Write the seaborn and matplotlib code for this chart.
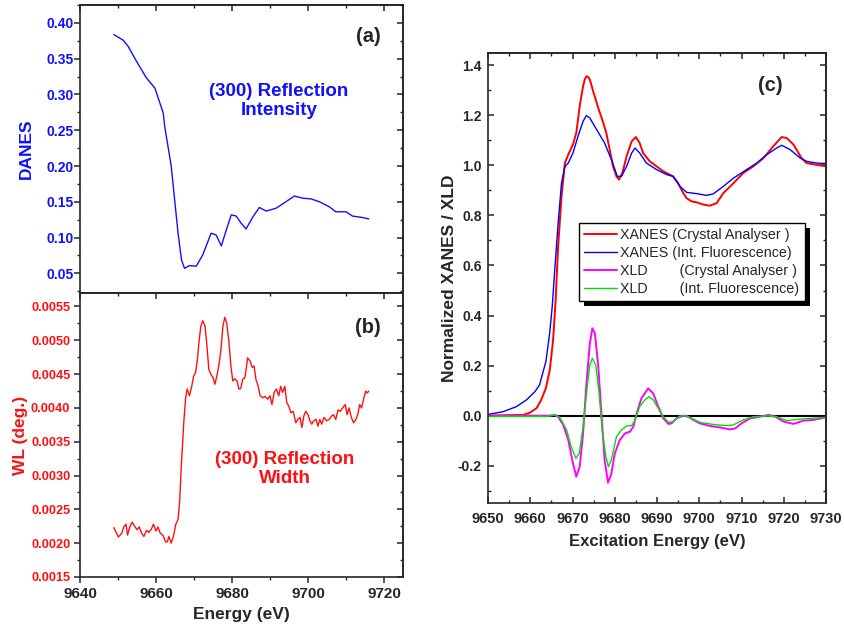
import matplotlib
matplotlib.use("Agg")
import matplotlib.pyplot as plt
from matplotlib.ticker import MultipleLocator, FormatStrFormatter
from matplotlib.patches import Rectangle
from matplotlib.transforms import IdentityTransform
import seaborn as sns

# ---- panel (a): DANES, (300) reflection intensity ----
danes_e = [9648.9, 9651.4, 9652.7, 9654.9, 9657.5, 9659.7, 9661.9, 9662.3, 9664.0, 9664.9,
           9665.8, 9666.7, 9667.5, 9668.8, 9670.6, 9672.3, 9674.5, 9675.8, 9677.2, 9678.5,
           9679.8, 9681.1, 9682.4, 9683.7, 9685.5, 9687.2, 9689.0, 9691.6, 9694.2, 9696.4,
           9698.6, 9700.8, 9703.0, 9705.6, 9707.3, 9710.0, 9711.7, 9714.3, 9716.0]
danes_i = [0.3837, 0.3757, 0.367, 0.346, 0.323, 0.309, 0.274, 0.255, 0.200, 0.153,
           0.106, 0.069, 0.057, 0.0607, 0.060, 0.0757, 0.106, 0.1037, 0.0883, 0.1107,
           0.1317, 0.130, 0.120, 0.112, 0.129, 0.142, 0.137, 0.141, 0.150, 0.158,
           0.155, 0.154, 0.150, 0.143, 0.136, 0.136, 0.130, 0.128, 0.126]

# ---- panel (b): reflection width ----
wl_e = [9648.9, 9650.1, 9651.0, 9651.5, 9652.1, 9652.5, 9653.1, 9653.7, 9654.4, 9655.0,
        9655.6, 9656.2, 9656.8, 9657.5, 9658.1, 9658.8, 9659.3, 9660.0, 9660.5, 9661.1,
        9661.9, 9662.5, 9663.0, 9663.4, 9664.0, 9664.7, 9665.2, 9665.8, 9666.2, 9666.7,
        9667.3, 9667.8, 9668.2, 9668.8, 9669.4, 9669.9, 9670.4, 9670.9, 9671.3, 9671.8,
        9672.3, 9672.9, 9673.4, 9673.9, 9674.4, 9675.0, 9675.5, 9676.0, 9676.6, 9677.1,
        9677.6, 9678.1, 9678.6, 9679.2, 9679.7, 9680.2, 9680.7, 9681.3, 9681.8, 9682.3,
        9682.8, 9683.4, 9683.7, 9684.1, 9684.8, 9685.3, 9685.8, 9686.3, 9686.9, 9687.4,
        9688.1, 9688.7, 9689.4, 9690.0, 9690.5, 9691.1, 9691.7, 9692.3, 9692.8, 9693.3,
        9693.9, 9694.4, 9694.9, 9695.5, 9696.1, 9696.8, 9697.3, 9697.9, 9698.4, 9698.9,
        9699.4, 9700.0, 9700.5, 9701.0, 9701.5, 9702.1, 9702.6, 9703.1, 9703.6, 9704.2,
        9704.9, 9705.6, 9706.2, 9706.7, 9707.3, 9707.9, 9708.5, 9709.1, 9709.8, 9710.3,
        9710.8, 9711.4, 9712.0, 9712.6, 9713.1, 9713.6, 9714.1, 9714.7, 9715.2, 9715.6,
        9716.0]
wl_deg = [0.00223, 0.00209, 0.00215, 0.00224, 0.00228, 0.00212, 0.00224, 0.00231, 0.00225, 0.00220,
          0.00224, 0.00215, 0.00210, 0.00219, 0.00216, 0.00221, 0.00228, 0.00218, 0.00224, 0.00215,
          0.00211, 0.00202, 0.00202, 0.00210, 0.00200, 0.00213, 0.00228, 0.00235, 0.00260, 0.00319,
          0.00378, 0.00415, 0.00428, 0.00418, 0.00432, 0.00447, 0.00452, 0.00472, 0.00497, 0.00521,
          0.00529, 0.00521, 0.00492, 0.00457, 0.00450, 0.00445, 0.00435, 0.00447, 0.00465, 0.00487,
          0.00521, 0.00534, 0.00526, 0.00497, 0.00462, 0.00440, 0.00443, 0.00440, 0.00428, 0.00429,
          0.00442, 0.00445, 0.00457, 0.00474, 0.00469, 0.00460, 0.00462, 0.00442, 0.00432, 0.00418,
          0.00415, 0.00417, 0.00413, 0.00418, 0.00405, 0.00423, 0.00428, 0.00418, 0.00432, 0.00423,
          0.00432, 0.00408, 0.00403, 0.00393, 0.00395, 0.00378, 0.00383, 0.00386, 0.00371, 0.00388,
          0.00395, 0.00390, 0.00381, 0.00376, 0.00381, 0.00383, 0.00373, 0.00383, 0.00376, 0.00386,
          0.00381, 0.00383, 0.00388, 0.00390, 0.00383, 0.00397, 0.00395, 0.00400, 0.00405, 0.00390,
          0.00400, 0.00386, 0.00378, 0.00383, 0.00390, 0.00405, 0.00400, 0.00415, 0.00425, 0.00422,
          0.00425]

# ---- panel (c): XANES / XLD ----
xanes_ca_e = [9650, 9658.3, 9659.9, 9661.5, 9662.6, 9663.7, 9664.6, 9665.4, 9666.0, 9666.6,
              9667.4, 9668.2, 9669.0, 9670.1, 9670.9, 9671.7, 9672.5, 9672.9, 9673.3, 9673.7,
              9674.1, 9674.9, 9676.1, 9677.3, 9678.0, 9678.8, 9679.6, 9680.4, 9681.0, 9681.8,
              9682.8, 9684.0, 9685.0, 9685.9, 9686.7, 9688.3, 9689.9, 9691.5, 9693.8, 9695.0,
              9696.2, 9697.0, 9698.2, 9699.4, 9701.0, 9702.5, 9704.1, 9705.7, 9708.1, 9710.4,
              9712.8, 9715.2, 9717.5, 9719.5, 9720.7, 9722.3, 9724.2, 9725.4, 9727.4, 9730]
xanes_ca = [0.0, 0.003, 0.012, 0.03, 0.063, 0.11, 0.18, 0.30, 0.46, 0.676,
            0.876, 1.01, 1.043, 1.083, 1.13, 1.236, 1.316, 1.343, 1.356, 1.353,
            1.343, 1.295, 1.229, 1.169, 1.129, 1.063, 0.996, 0.956, 0.943, 0.969,
            1.036, 1.096, 1.113, 1.089, 1.049, 1.016, 0.996, 0.976, 0.956, 0.929,
            0.889, 0.869, 0.856, 0.852, 0.843, 0.839, 0.849, 0.889, 0.929, 0.969,
            0.996, 1.029, 1.076, 1.113, 1.109, 1.083, 1.029, 1.009, 1.003, 0.996]

xanes_if_e = [9650, 9653.6, 9656.7, 9659.1, 9661.1, 9662.2, 9663.7, 9664.6, 9665.2, 9665.8,
              9666.6, 9667.4, 9668.2, 9669.0, 9670.1, 9671.3, 9672.5, 9673.3, 9674.1, 9675.7,
              9677.6, 9679.2, 9680.6, 9681.6, 9682.8, 9684.0, 9684.8, 9685.9, 9687.5, 9689.9,
              9692.3, 9693.8, 9695.4, 9697.0, 9699.4, 9701.7, 9703.3, 9705.7, 9708.1, 9711.2,
              9713.6, 9716.0, 9718.3, 9719.5, 9721.5, 9723.9, 9725.4, 9727.8, 9730]
xanes_if = [0.005, 0.016, 0.036, 0.063, 0.096, 0.123, 0.216, 0.33, 0.436, 0.583,
            0.77, 0.929, 0.996, 1.009, 1.049, 1.116, 1.176, 1.199, 1.189, 1.143,
            1.089, 1.023, 0.956, 0.956, 0.996, 1.049, 1.069, 1.049, 1.009, 0.983,
            0.963, 0.956, 0.916, 0.892, 0.887, 0.880, 0.886, 0.916, 0.949, 0.983,
            1.009, 1.043, 1.069, 1.080, 1.063, 1.029, 1.016, 1.009, 1.007]

xld_ca_e = [9650, 9664.6, 9665.8, 9666.6, 9667.8, 9669.0, 9670.1, 9670.9, 9671.7, 9672.5,
            9673.3, 9674.1, 9674.7, 9675.3, 9676.1, 9676.9, 9677.6, 9678.4, 9679.2, 9680.0,
            9681.2, 9682.4, 9683.6, 9684.4, 9685.2, 9686.3, 9687.9, 9689.1, 9690.3, 9691.5,
            9692.7, 9693.4, 9694.6, 9696.2, 9697.4, 9698.6, 9700.2, 9702.5, 9704.9, 9707.3,
            9708.5, 9710.0, 9712.0, 9714.4, 9716.4, 9718.0, 9720.0, 9722.3, 9724.6, 9727.0,
            9730]
xld_ca = [0.0, 0.0, 0.003, -0.004, -0.037, -0.097, -0.19, -0.244, -0.204, -0.071,
          0.129, 0.289, 0.349, 0.329, 0.196, -0.004, -0.177, -0.268, -0.231, -0.151,
          -0.097, -0.071, -0.064, -0.044, 0.009, 0.069, 0.109, 0.089, 0.036, -0.011,
          -0.033, -0.031, -0.011, 0.0, -0.004, -0.017, -0.031, -0.041, -0.047, -0.055,
          -0.051, -0.031, -0.011, -0.004, 0.003, -0.004, -0.024, -0.033, -0.020, -0.017,
          -0.007]

xld_if_e = [9650, 9663.8, 9665.8, 9667.0, 9668.6, 9669.7, 9670.8, 9671.6, 9672.5, 9673.3,
            9674.1, 9674.7, 9675.5, 9676.3, 9677.1, 9677.9, 9678.5, 9679.2, 9680.4, 9681.6,
            9682.8, 9684.0, 9684.8, 9685.9, 9687.1, 9688.1, 9689.1, 9690.3, 9691.5, 9692.7,
            9693.8, 9695.4, 9697.0, 9698.2, 9700.2, 9703.3, 9706.5, 9708.1, 9710.4, 9712.8,
            9716.0, 9718.3, 9720.7, 9723.1, 9726.2, 9730]
xld_if = [-0.003, -0.003, 0.003, -0.007, -0.057, -0.124, -0.171, -0.151, -0.044, 0.089,
          0.203, 0.229, 0.203, 0.089, -0.071, -0.164, -0.204, -0.177, -0.084, -0.057,
          -0.041, -0.040, -0.017, 0.036, 0.063, 0.076, 0.063, 0.029, -0.004, -0.027,
          -0.024, -0.001, -0.001, -0.011, -0.027, -0.035, -0.040, -0.037, -0.017, -0.004,
          -0.001, -0.004, -0.020, -0.015, -0.011, -0.007]

legend_labels = ["XANES (Crystal Analyser )", "XANES (Int. Fluorescence)",
                 "XLD        (Crystal Analyser )", "XLD        (Int. Fluorescence)"]

sns.set_style("ticks")
plt.rcParams['font.family'] = ['Liberation Sans', 'DejaVu Sans']
plt.rcParams['font.weight'] = 'bold'
plt.rcParams['axes.linewidth'] = 1.2

fig = plt.figure(figsize=(8.44, 6.31), dpi=100)
ax_a = fig.add_axes([0.0948, 0.5357, 0.3827, 0.4563])
ax_b = fig.add_axes([0.0948, 0.0856, 0.3827, 0.4501], sharex=ax_a)
ax_c = fig.add_axes([0.5782, 0.2024, 0.4005, 0.7141])


def mirror_ticks(ax, xmaj, xmin, ymaj, ymin, main_dir='out'):
    # Origin style: left/bottom ticks main_dir, mirrored ticks on right/top pointing in
    ax.tick_params(which='major', direction=main_dir, length=4, width=1.1)
    ax.tick_params(which='minor', direction=main_dir, length=2.5, width=1.0)
    top = ax.secondary_xaxis('top')
    right = ax.secondary_yaxis('right')
    for sec, axis, maj, mnr in [(top, top.xaxis, xmaj, xmin), (right, right.yaxis, ymaj, ymin)]:
        axis.set_major_locator(MultipleLocator(maj))
        axis.set_minor_locator(MultipleLocator(mnr))
        sec.tick_params(which='major', direction='in', length=4, width=1.1)
        sec.tick_params(which='minor', direction='in', length=2.5, width=1.0)
        axis.set_ticklabels([])


# panel (a)
sns.lineplot(x=danes_e, y=danes_i, ax=ax_a, color='#1010ff', lw=1.0, sort=False, estimator=None)
ax_a.set_ylim(0.0225, 0.425)
ax_a.yaxis.set_major_locator(MultipleLocator(0.05))
ax_a.yaxis.set_minor_locator(MultipleLocator(0.025))
ax_a.yaxis.set_major_formatter(FormatStrFormatter('%.2f'))
mirror_ticks(ax_a, 20, 10, 0.05, 0.025)
ax_a.set_ylabel('DANES', color='#1010ff', fontsize=12.5, fontweight='bold', labelpad=9)
ax_a.tick_params(axis='y', labelcolor='#1010ff', labelsize=10, pad=0.5)
ax_a.tick_params(axis='x', labelbottom=False)
ax_a.text(0.93, 0.89, '(a)', transform=ax_a.transAxes, fontsize=14.5, fontweight='bold', ha='right', va='center')
ax_a.text(0.616, 0.667, '(300) Reflection\nIntensity', transform=ax_a.transAxes, color='#1010ff',
          fontsize=13.5, fontweight='bold', ha='center', va='center', linespacing=1.2)

# panel (b)
sns.lineplot(x=wl_e, y=wl_deg, ax=ax_b, color='#ff1010', lw=1.0, sort=False, estimator=None)
ax_b.set_xlim(9640, 9725)
ax_b.set_ylim(0.0015, 0.0057)
ax_b.xaxis.set_major_locator(MultipleLocator(20))
ax_b.xaxis.set_minor_locator(MultipleLocator(10))
ax_b.yaxis.set_major_locator(MultipleLocator(0.0005))
ax_b.yaxis.set_minor_locator(MultipleLocator(0.00025))
ax_b.yaxis.set_major_formatter(FormatStrFormatter('%.4f'))
mirror_ticks(ax_b, 20, 10, 0.0005, 0.00025)
ax_b.set_ylabel('WL (deg.)', color='#ff1010', fontsize=12.5, fontweight='bold', labelpad=2)
ax_b.set_xlabel('Energy (eV)', fontsize=12.5, fontweight='bold', labelpad=4)
ax_b.tick_params(axis='y', labelcolor='#ff1010', labelsize=9.2, pad=3)
ax_b.tick_params(axis='x', labelsize=11)
ax_b.text(0.93, 0.877, '(b)', transform=ax_b.transAxes, fontsize=14.5, fontweight='bold', ha='right', va='center')
ax_b.text(0.635, 0.38, '(300) Reflection\nWidth', transform=ax_b.transAxes, color='#ff1010',
          fontsize=13.5, fontweight='bold', ha='center', va='center', linespacing=1.2)

# panel (c)
ax_c.axhline(0, color='black', lw=1.5, zorder=1)
sns.lineplot(x=xanes_ca_e, y=xanes_ca, ax=ax_c, color='#ff0000', lw=1.4, sort=False, estimator=None,
             label=legend_labels[0])
sns.lineplot(x=xanes_if_e, y=xanes_if, ax=ax_c, color='#0000ff', lw=1.0, sort=False, estimator=None,
             label=legend_labels[1])
sns.lineplot(x=xld_ca_e, y=xld_ca, ax=ax_c, color='#ff00ff', lw=1.4, sort=False, estimator=None,
             label=legend_labels[2])
sns.lineplot(x=xld_if_e, y=xld_if, ax=ax_c, color='#00e000', lw=1.0, sort=False, estimator=None,
             label=legend_labels[3])
ax_c.set_xlim(9650, 9730)
ax_c.set_ylim(-0.35, 1.45)
ax_c.xaxis.set_major_locator(MultipleLocator(10))
ax_c.xaxis.set_minor_locator(MultipleLocator(5))
ax_c.yaxis.set_major_locator(MultipleLocator(0.2))
ax_c.yaxis.set_minor_locator(MultipleLocator(0.1))
ax_c.yaxis.set_major_formatter(FormatStrFormatter('%.1f'))
mirror_ticks(ax_c, 10, 5, 0.2, 0.1, main_dir='in')
ax_c.tick_params(axis='x', labelsize=10.5, pad=6)
ax_c.tick_params(axis='y', labelsize=10, pad=4.5)
ax_c.set_xlabel('Excitation Energy (eV)', fontsize=12, fontweight='bold', labelpad=6)
ax_c.set_ylabel('Normalized XANES / XLD', fontsize=12.5, fontweight='bold', labelpad=0.5)
ax_c.text(0.873, 0.928, '(c)', transform=ax_c.transAxes, fontsize=14.5, fontweight='bold', ha='right', va='center')

leg = ax_c.legend(loc='upper left', bbox_to_anchor=(0.269, 0.622), borderaxespad=0, frameon=True,
                  fancybox=False, edgecolor='black', framealpha=1,
                  prop={'family': ['Liberation Sans', 'DejaVu Sans'], 'weight': 'normal', 'size': 10.3},
                  handlelength=2.3, handletextpad=0.25, labelspacing=0.27, borderpad=0.35)
leg.get_frame().set_linewidth(1.0)
leg.set_zorder(10)

# thick black drop shadow behind the legend box
fig.canvas.draw()
bb = leg.get_window_extent()
shadow = Rectangle((bb.x0 + 5, bb.y0 - 5), bb.width, bb.height, transform=IdentityTransform(),
                   facecolor='black', edgecolor='none', zorder=9, clip_on=False)
ax_c.add_artist(shadow)

fig.savefig('out.png', dpi=100)
